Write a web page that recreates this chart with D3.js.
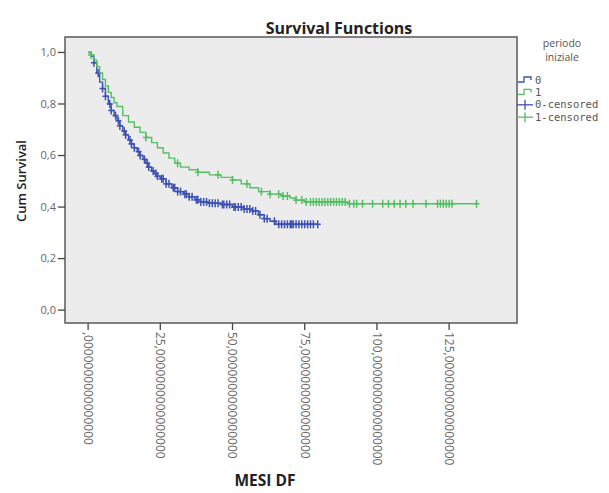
<!DOCTYPE html>
<meta charset="utf-8">
<script src="https://d3js.org/d3.v7.js"></script>
<style>
  body { margin: 0; background: #fff; }
  text { font-family: "Open Sans", "DejaVu Sans", sans-serif; }
</style>
<div id="my_dataviz"></div>
<script>

// survival steps, group 0 (blue) : time in months, cumulative survival
const time0 = [0, 1, 2, 3, 4, 5, 6, 7, 8, 9, 10, 11, 12, 13, 14, 15, 16, 17, 18, 19, 20, 21, 22, 23, 24, 25, 27, 29, 31, 33, 35, 37, 39, 42, 46, 50, 54, 57, 59, 61, 63, 65];
const surv0 = [1.0, 0.985, 0.96, 0.92, 0.885, 0.86, 0.83, 0.80, 0.775, 0.755, 0.735, 0.715, 0.695, 0.68, 0.66, 0.645, 0.63, 0.615, 0.60, 0.585, 0.57, 0.555, 0.54, 0.53, 0.52, 0.51, 0.49, 0.475, 0.46, 0.45, 0.44, 0.428, 0.42, 0.415, 0.41, 0.40, 0.392, 0.385, 0.37, 0.355, 0.345, 0.333];
const censored0 = [2, 3.5, 5, 6, 7.5, 8, 9.5, 10.5, 11, 12.5, 13, 14.5, 15, 16, 17.5, 18, 19.5, 20.5, 21, 22.5, 23.5, 24, 25.5, 26, 27, 28, 29.5, 30, 31, 32, 33.5, 34, 35, 36, 37.5, 38, 39, 40, 41, 42, 43, 44, 45, 46.5, 47, 48, 49, 50.5, 51, 52, 53, 54, 55, 56, 57, 58, 59.5, 61, 62, 64.5, 66, 67, 68, 69, 70, 70.5, 71, 72, 73, 74, 75, 76, 77, 78, 79.5];

// group 1 (green)
const time1 = [0, 1, 2, 3, 4, 5, 6, 7, 8, 9, 10, 12, 14, 16, 18, 20, 22, 24, 26, 28, 30, 32, 35, 38, 42, 46, 50, 53, 56, 59, 63, 67, 70, 72, 75, 90];
const surv1 = [1.0, 0.99, 0.97, 0.945, 0.92, 0.895, 0.87, 0.845, 0.825, 0.805, 0.79, 0.755, 0.73, 0.71, 0.69, 0.67, 0.65, 0.63, 0.61, 0.59, 0.57, 0.555, 0.545, 0.535, 0.525, 0.515, 0.505, 0.49, 0.475, 0.46, 0.45, 0.443, 0.435, 0.427, 0.42, 0.413];
const censored1 = [1, 20, 31, 38, 45, 50, 55, 60, 63, 66, 67.5, 69, 72, 74, 75.5, 77, 78, 79, 80, 81, 82, 83, 84, 85, 86, 87, 88, 89, 90.5, 92, 93, 95, 98.5, 102, 104, 106, 108, 110, 112.5, 117, 121, 122, 123, 124, 125, 126, 134.5];

const xTicks = [0, 25, 50, 75, 100, 125];
const yTicks = [0, 0.2, 0.4, 0.6, 0.8, 1.0];
const legendLabels = ["0", "1", "0-censored", "1-censored"];
const colors = ["#3d52b3", "#55bf63"];

const W = 609, H = 493;
const plot = {left: 65, right: 517, top: 37, bottom: 323};

const svg = d3.select("#my_dataviz").append("svg")
  .attr("width", W).attr("height", H);

const x = d3.scaleLinear().domain([-8, 148.5]).range([plot.left, plot.right]);
const y = d3.scaleLinear().domain([-0.05, 1.06]).range([plot.bottom, plot.top]);

// plot background
svg.append("rect")
  .attr("x", plot.left).attr("y", plot.top)
  .attr("width", plot.right - plot.left).attr("height", plot.bottom - plot.top)
  .attr("fill", "#ececec");

// step function lookup
function survAt(times, survs, t) {
  let i = d3.bisectRight(times, t) - 1;
  return survs[Math.max(0, i)];
}

const series = [
  {times: time0, survs: surv0, cens: censored0},
  {times: time1, survs: surv1, cens: censored1}
];

series.forEach((s, gi) => {
  const lastT = d3.max(s.cens.concat(s.times));
  const pts = s.times.map((t, i) => [t, s.survs[i]]);
  pts.push([lastT, s.survs[s.survs.length - 1]]);
  const line = d3.line().curve(d3.curveStepAfter)
    .x(d => x(d[0])).y(d => y(d[1]));
  svg.append("path")
    .attr("d", line(pts))
    .attr("fill", "none")
    .attr("stroke", colors[gi])
    .attr("stroke-width", 1.4);

  const g = svg.append("g").attr("stroke", colors[gi]).attr("stroke-width", 1.5);
  s.cens.forEach(t => {
    const cx = x(t), cy = y(survAt(s.times, s.survs, t));
    g.append("line").attr("x1", cx).attr("x2", cx).attr("y1", cy - 4).attr("y2", cy + 4);
    g.append("line").attr("x1", cx - 3).attr("x2", cx + 3).attr("y1", cy).attr("y2", cy);
  });
});

// frame
svg.append("rect")
  .attr("x", plot.left).attr("y", plot.top)
  .attr("width", plot.right - plot.left).attr("height", plot.bottom - plot.top)
  .attr("fill", "none").attr("stroke", "#5a5a5a").attr("stroke-width", 1.5);

// y axis
const yAxis = svg.append("g");
yTicks.forEach(v => {
  yAxis.append("line")
    .attr("x1", plot.left - 7).attr("x2", plot.left)
    .attr("y1", y(v)).attr("y2", y(v))
    .attr("stroke", "#444").attr("stroke-width", 1.3);
  yAxis.append("text")
    .attr("x", plot.left - 9).attr("y", y(v)).attr("dy", "0.35em")
    .attr("text-anchor", "end")
    .style("font-size", "11px").attr("fill", "#666")
    .text(v.toFixed(1).replace(".", ","));
});

// x axis
const xAxis = svg.append("g");
xTicks.forEach(v => {
  xAxis.append("line")
    .attr("x1", x(v)).attr("x2", x(v))
    .attr("y1", plot.bottom).attr("y2", plot.bottom + 7)
    .attr("stroke", "#444").attr("stroke-width", 1.3);
  const lbl = (v === 0 ? "" : String(v)) + "," + "0".repeat(16);
  xAxis.append("text")
    .attr("transform", `translate(${x(v)},${plot.bottom + 9}) rotate(90)`)
    .attr("dy", "0.35em")
    .style("font-size", "12px").attr("fill", "#666")
    .text(lbl);
});

// titles
svg.append("text")
  .attr("x", 339).attr("y", 34).attr("text-anchor", "middle")
  .style("font-size", "16px").style("font-weight", "bold").attr("fill", "#222")
  .text("Survival Functions");

svg.append("text")
  .attr("transform", `translate(26,181) rotate(-90)`)
  .attr("text-anchor", "middle")
  .style("font-size", "13px").style("font-weight", "600").attr("fill", "#222")
  .text("Cum Survival");

svg.append("text")
  .attr("x", 265).attr("y", 486).attr("text-anchor", "middle")
  .style("font-size", "15.5px").style("font-weight", "bold").attr("fill", "#222")
  .text("MESI DF");

// legend
const lg = svg.append("g");
lg.append("text").attr("x", 562).attr("y", 47).attr("text-anchor", "middle")
  .style("font-size", "10.5px").attr("fill", "#555").text("periodo");
lg.append("text").attr("x", 562).attr("y", 61).attr("text-anchor", "middle")
  .style("font-size", "10.5px").attr("fill", "#555").text("iniziale");

legendLabels.forEach((lab, i) => {
  const ly = 80 + i * 12.4;
  const col = colors[i % 2];
  if (i < 2) {
    lg.append("path")
      .attr("d", `M518,${ly + 2}H524V${ly - 3}H531V${ly}`)
      .attr("fill", "none").attr("stroke", col).attr("stroke-width", 1.3);
  } else {
    lg.append("line").attr("x1", 517).attr("x2", 533).attr("y1", ly).attr("y2", ly)
      .attr("stroke", col).attr("stroke-width", 1.3);
    lg.append("line").attr("x1", 525).attr("x2", 525).attr("y1", ly - 5).attr("y2", ly + 5)
      .attr("stroke", col).attr("stroke-width", 1.3);
  }
  lg.append("text").attr("x", 535).attr("y", ly).attr("dy", "0.35em")
    .style("font-family", "'DejaVu Sans Mono', monospace")
    .style("font-size", "10.5px").attr("fill", "#555")
    .text(lab);
});

</script>
